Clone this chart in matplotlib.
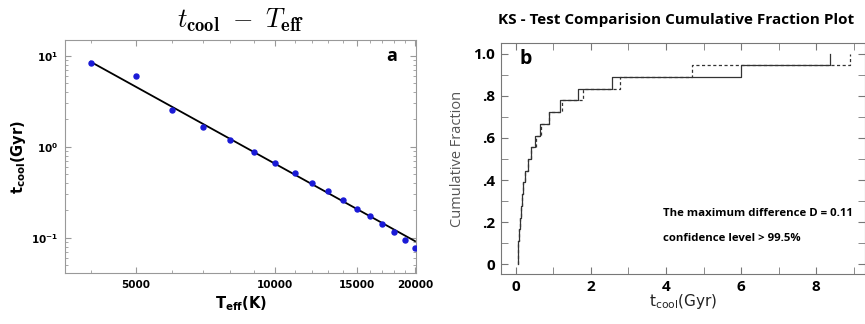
import numpy as np
import matplotlib.pyplot as plt
from matplotlib.ticker import FixedLocator, LogLocator, NullFormatter, MultipleLocator

# panel a: cooling time vs effective temperature
t_eff = [4000, 5000, 6000, 7000, 8000, 9000, 10000, 11000, 12000, 13000,
         14000, 15000, 16000, 17000, 18000, 19000, 20000]
t_cool = [8.4, 6.0, 2.55, 1.66, 1.19, 0.88, 0.66, 0.52, 0.40, 0.33,
          0.26, 0.21, 0.174, 0.142, 0.116, 0.095, 0.077]
fit_norm = 0.65     # t_cool at 10000 K
fit_slope = -2.82   # power-law index
fit_range = [4000, 20000]

# panel b: sorted cooling times of the two samples (KS test)
ks_solid = [0.044, 0.062, 0.088, 0.106, 0.13, 0.16, 0.19, 0.24, 0.32,
            0.40, 0.51, 0.645, 0.87, 1.17, 1.65, 2.56, 6.0, 8.38]
ks_dashed = [0.05, 0.066, 0.09, 0.11, 0.135, 0.165, 0.20, 0.25, 0.33,
             0.41, 0.53, 0.66, 0.88, 1.22, 1.79, 2.77, 4.70, 8.89]

fig = plt.figure(figsize=(8.65, 3.24), dpi=100)

# ---- panel a ----
ax1 = fig.add_axes([0.075, 0.157, 0.406, 0.72])
ax1.set_xscale('log')
ax1.set_yscale('log')
tfit = np.array(fit_range, dtype=float)
ax1.plot(tfit, fit_norm * (tfit / 1e4) ** fit_slope, color='black', lw=1.3, zorder=2)
ax1.plot(t_eff, t_cool, 'o', color='#1a1ad6', ms=3.6, zorder=3)
ax1.set_xlim(3520, 20100)
ax1.set_ylim(0.041, 15)
ax1.xaxis.set_major_locator(FixedLocator([5000, 10000, 15000, 20000]))
ax1.xaxis.set_minor_locator(FixedLocator(np.arange(4000, 20001, 1000)))
ax1.xaxis.set_minor_formatter(NullFormatter())
ax1.set_xticklabels(['5000', '10000', '15000', '20000'])
ax1.yaxis.set_major_locator(FixedLocator([0.1, 1, 10]))
ax1.yaxis.set_minor_locator(LogLocator(base=10, subs=np.arange(2, 10)))
ax1.yaxis.set_minor_formatter(NullFormatter())
ax1.set_yticklabels([r'$\mathbf{10^{-1}}$', r'$\mathbf{10^{0}}$', r'$\mathbf{10^{1}}$'])
ax1.tick_params(which='both', direction='in', top=True, right=True, color='#999999')
ax1.tick_params(which='major', length=4, labelsize=7.5, pad=5)
ax1.tick_params(which='minor', length=2)
for lab in ax1.get_xticklabels() + ax1.get_yticklabels():
    lab.set_fontweight('bold')
for s in ax1.spines.values():
    s.set_color('#999999')
ax1.set_xlabel(r'$\mathbf{T_{eff}}$(K)', fontsize=10.5, fontweight='bold', labelpad=3)
ax1.set_ylabel(r'$\mathbf{t_{cool}}$(Gyr)', fontsize=10.5, fontweight='bold', labelpad=2)
ax1.set_title(r'$t_{\mathbf{cool}}\ -\ T_{\mathbf{eff}}$', fontsize=19, pad=9,
              math_fontfamily='cm')
ax1.text(0.93, 0.93, 'a', transform=ax1.transAxes, fontsize=13, fontweight='bold',
         family='Open Sans', ha='center', va='center')

# ---- panel b ----
ax2 = fig.add_axes([0.579, 0.154, 0.421, 0.713])
lev = np.arange(len(ks_solid) + 1) / len(ks_solid)
ax2.step(np.r_[ks_solid[0], ks_solid], lev, where='post', color='#333333', lw=0.9)
ax2.step(np.r_[ks_dashed[0], ks_dashed], lev, where='post', color='#333333', lw=0.9,
         ls=(0, (2.5, 2)))
ax2.set_xlim(-0.4, 9.3)
ax2.set_ylim(-0.046, 1.05)
ax2.xaxis.set_major_locator(FixedLocator([0, 2, 4, 6, 8]))
ax2.xaxis.set_minor_locator(MultipleLocator(1))
ax2.yaxis.set_major_locator(FixedLocator([0, 0.2, 0.4, 0.6, 0.8, 1.0]))
ax2.yaxis.set_minor_locator(MultipleLocator(0.1))
ax2.set_yticklabels(['0', '.2', '.4', '.6', '.8', '1.0'])
ax2.tick_params(which='both', direction='in', top=True, right=True, color='#777777')
ax2.tick_params(which='major', length=5, labelsize=11, pad=4)
ax2.tick_params(which='minor', length=5)
for lab in ax2.get_xticklabels() + ax2.get_yticklabels():
    lab.set_fontweight('bold')
    lab.set_family('Open Sans')
for s in ax2.spines.values():
    s.set_color('#777777')
ax2.set_xlabel(r'$\mathregular{t_{cool}}$(Gyr)', fontsize=11, labelpad=-1, color='#222222')
ax2.set_ylabel('Cumulative Fraction', fontsize=10.5, color='#555555', labelpad=6,
               family='Open Sans')
ax2.set_title('KS - Test Comparision Cumulative Fraction Plot', fontsize=11,
              fontweight='bold', family='Open Sans', pad=14, x=0.48)
ax2.text(0.05, 0.93, 'b', transform=ax2.transAxes, fontsize=14, fontweight='bold',
         family='Open Sans', ha='left', va='center')
ax2.text(3.93, 0.24, 'The maximum difference D = 0.11', fontsize=8.2, fontweight='bold',
         family='Open Sans', va='center')
ax2.text(3.93, 0.125, 'confidence level > 99.5%', fontsize=8.2, fontweight='bold',
         family='Open Sans', va='center')

fig.savefig('out.png', dpi=100)
